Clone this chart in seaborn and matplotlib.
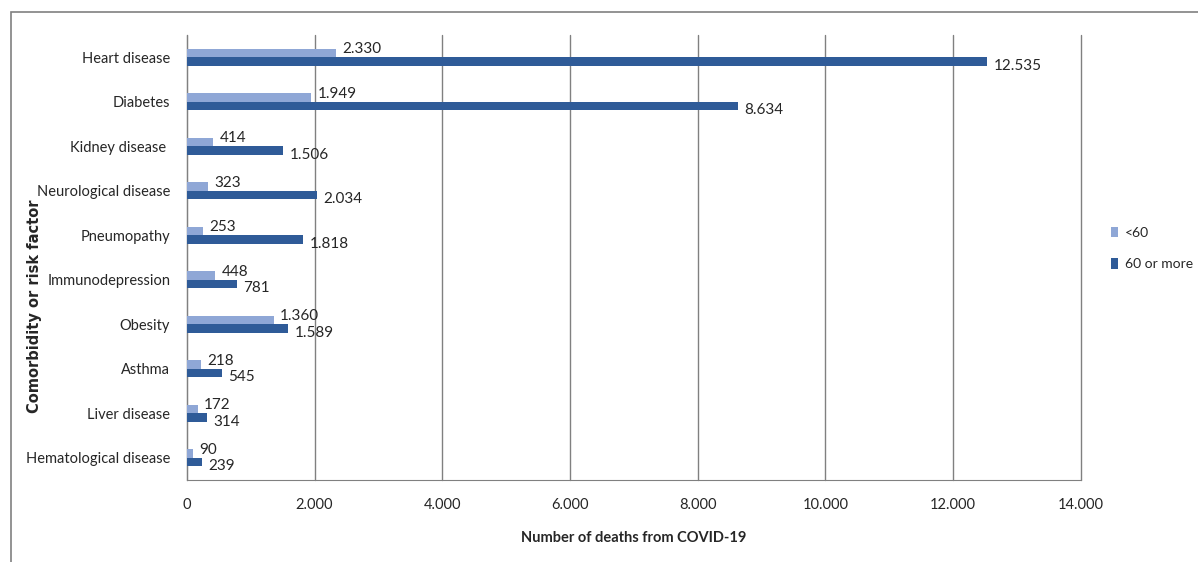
import pandas as pd
import numpy as np
import seaborn as sns
import matplotlib.pyplot as plt
from matplotlib.patches import Rectangle
from matplotlib.ticker import FuncFormatter

# data
conditions = ['Heart disease', 'Diabetes', 'Kidney disease ', 'Neurological disease', 'Pneumopathy',
              'Immunodepression', 'Obesity', 'Asthma', 'Liver disease', 'Hematological disease']
under_60 = [2330, 1949, 414, 323, 253, 448, 1360, 218, 172, 90]
over_60 = [12535, 8634, 1506, 2034, 1818, 781, 1589, 545, 314, 239]
groups = ['<60', '60 or more']
colors = ['#8FA7D6', '#2F5B98']


def dot_thousands(v):
    return f'{int(round(v)):,}'.replace(',', '.')


df = pd.DataFrame({
    'condition': conditions * 2,
    'deaths': under_60 + over_60,
    'age': [groups[0]] * len(conditions) + [groups[1]] * len(conditions),
})

sns.set_style('white')
plt.rcParams['font.family'] = ['Lato', 'DejaVu Sans']

fig = plt.figure(figsize=(11.98, 5.62), dpi=100)
ax = fig.add_axes([0.156, 0.146, 0.746, 0.792])

sns.barplot(data=df, y='condition', x='deaths', hue='age', orient='h',
            palette=colors, saturation=1, width=0.38, ax=ax, edgecolor='none', zorder=3)

ax.set_xlim(0, 14000)
ax.set_xticks(np.arange(0, 14001, 2000))
ax.xaxis.set_major_formatter(FuncFormatter(lambda v, p: dot_thousands(v)))
ax.grid(axis='x', color='#808080', linewidth=1, zorder=0)
for gl in ax.get_xgridlines():
    gl.set_clip_on(False)
ax.grid(axis='y', visible=False)
for s in ['top', 'right']:
    ax.spines[s].set_visible(False)
ax.spines['left'].set_color('#808080')
ax.spines['bottom'].set_color('#808080')
ax.tick_params(axis='x', length=5, color='#808080', labelsize=10.5, pad=8)
ax.tick_params(axis='y', length=0, labelsize=10.5, pad=12)

# value labels
for cont, vals, dy in zip(ax.containers, [under_60, over_60], [-0.08, 0.1]):
    for rect, v in zip(cont, vals):
        y = rect.get_y() + rect.get_height() / 2
        ax.text(rect.get_width() + 100, y + dy, dot_thousands(v), ha='left', va='center', fontsize=11)

ax.set_xlabel('Number of deaths from COVID-19', fontsize=10.5, fontweight='bold', labelpad=14)
ax.set_ylabel('')
fig.text(0.029, 0.455, 'Comorbidity or risk factor', rotation=90, ha='center', va='center',
         fontsize=10.5, fontweight='bold', family='DejaVu Sans')

leg = ax.legend(loc='center left', bbox_to_anchor=(1.02, 0.52), frameon=False,
                fontsize=10, handlelength=0.5, handleheight=0.8, labelspacing=1.4, handletextpad=0.5)

# chart area frame
fig.patches.append(Rectangle((0.009, -0.01), 1.0, 0.989, transform=fig.transFigure,
                             fill=False, edgecolor='#808080', linewidth=1.2))

fig.savefig('out.png', dpi=100)
